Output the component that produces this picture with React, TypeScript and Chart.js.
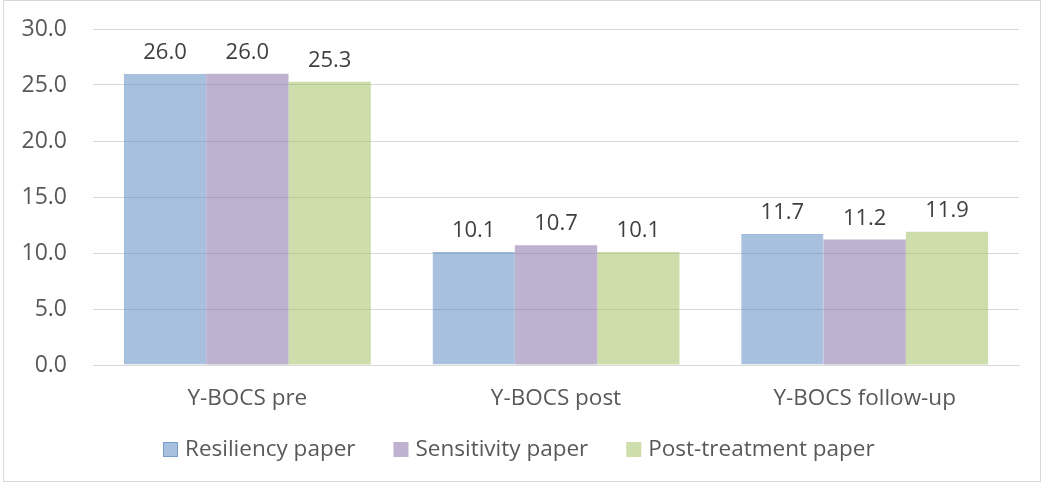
import React, { useEffect, useRef } from "react";
import { Chart, registerables } from "chart.js";

Chart.register(...registerables);

const categories = ["Y-BOCS pre", "Y-BOCS post", "Y-BOCS follow-up"];
const seriesNames = ["Resiliency paper", "Sensitivity paper", "Post-treatment paper"];
const resiliency = [26.0, 10.1, 11.7];
const sensitivity = [26.0, 10.7, 11.2];
const postTreatment = [25.3, 10.1, 11.9];
const yTicks = [0, 5, 10, 15, 20, 25, 30];

const FONT = "'Open Sans', sans-serif";

const frameLabelsLegend = {
  id: "frameLabelsLegend",
  afterDatasetsDraw(chart: any) {
    const ctx = chart.ctx;
    ctx.save();
    ctx.font = `22px ${FONT}`;
    ctx.fillStyle = "#404040";
    ctx.textAlign = "center";
    ctx.textBaseline = "alphabetic";
    chart.data.datasets.forEach((ds: any, i: number) => {
      const meta = chart.getDatasetMeta(i);
      meta.data.forEach((bar: any, j: number) => {
        ctx.fillText(Number(ds.data[j]).toFixed(1), bar.x, bar.y - 15);
      });
    });
    ctx.restore();
  },
  afterDraw(chart: any) {
    const ctx = chart.ctx;
    ctx.save();
    // legend
    ctx.font = `22.5px ${FONT}`;
    ctx.textBaseline = "middle";
    ctx.textAlign = "left";
    const box = 15, boxGap = 7, itemGap = 38;
    const widths = chart.data.datasets.map((ds: any) => box + boxGap + ctx.measureText(ds.label).width);
    const total = widths.reduce((a: number, b: number) => a + b, 0) + itemGap * (widths.length - 1);
    let x = Math.round(519 - total / 2);
    const cy = 449;
    chart.data.datasets.forEach((ds: any, i: number) => {
      ctx.fillStyle = ds.backgroundColor;
      ctx.fillRect(x, cy - 7, box, 15);
      if (ds.borderWidth) {
        ctx.strokeStyle = ds.borderColor;
        ctx.lineWidth = 1;
        ctx.strokeRect(x + 0.5, cy - 6.5, box - 1, 14);
      }
      ctx.fillStyle = "#595959";
      ctx.fillText(ds.label, x + box + boxGap, cy + 1);
      x += widths[i] + itemGap;
    });
    // frame
    ctx.strokeStyle = "#d9d9d9";
    ctx.lineWidth = 1;
    ctx.strokeRect(3.5, 0.5, 1037, 481);
    ctx.restore();
  },
};

export default function App() {
  const ref = useRef<HTMLCanvasElement>(null);
  useEffect(() => {
    const chart = new Chart(ref.current!, {
      type: "bar",
      data: {
        labels: categories,
        datasets: [
          {
            label: seriesNames[0],
            data: resiliency,
            backgroundColor: "rgba(79,129,189,0.5)",
            borderColor: "rgba(79,129,189,0.55)",
            borderWidth: 1,
          },
          {
            label: seriesNames[1],
            data: sensitivity,
            backgroundColor: "rgba(128,100,162,0.5)",
            borderColor: "rgba(128,100,162,0.2)",
            borderWidth: 0,
          },
          {
            label: seriesNames[2],
            data: postTreatment,
            backgroundColor: "rgba(155,187,89,0.5)",
            borderWidth: 0,
          },
        ],
      },
      plugins: [frameLabelsLegend],
      options: {
        responsive: false,
        animation: false,
        layout: { padding: { top: 0, right: 22, left: 22, bottom: 66 } },
        datasets: { bar: { categoryPercentage: 0.8, barPercentage: 1 } },
        plugins: {
          tooltip: { enabled: false },
          legend: { display: false },
        },
        scales: {
          x: {
            afterFit: (s: any) => { s.height = 52; },
            grid: { display: false, drawTicks: false },
            border: { display: true, color: "#d9d9d9", width: 1 },
            ticks: { font: { family: FONT, size: 22.5 }, color: "#595959", padding: 20 },
          },
          y: {
            min: 0,
            max: 30,
            afterFit: (s: any) => { s.width = 71; s.paddingTop = 29; s.paddingBottom = 14; },
            afterBuildTicks: (s: any) => { s.ticks = yTicks.map((v) => ({ value: v })); },
            grid: { color: "#d9d9d9", drawTicks: false, lineWidth: 1 },
            border: { display: false },
            ticks: {
              font: { family: FONT, size: 23 },
              color: "#595959",
              padding: 26,
              callback: (v: any) => Number(v).toFixed(1),
            },
          },
        },
      },
    });
    return () => chart.destroy();
  }, []);
  return (
    <div style={{ position: "absolute", left: 0, top: 0, width: 1041, height: 483, background: "#fff" }}>
      <canvas ref={ref} width={1041} height={483} />
    </div>
  );
}
